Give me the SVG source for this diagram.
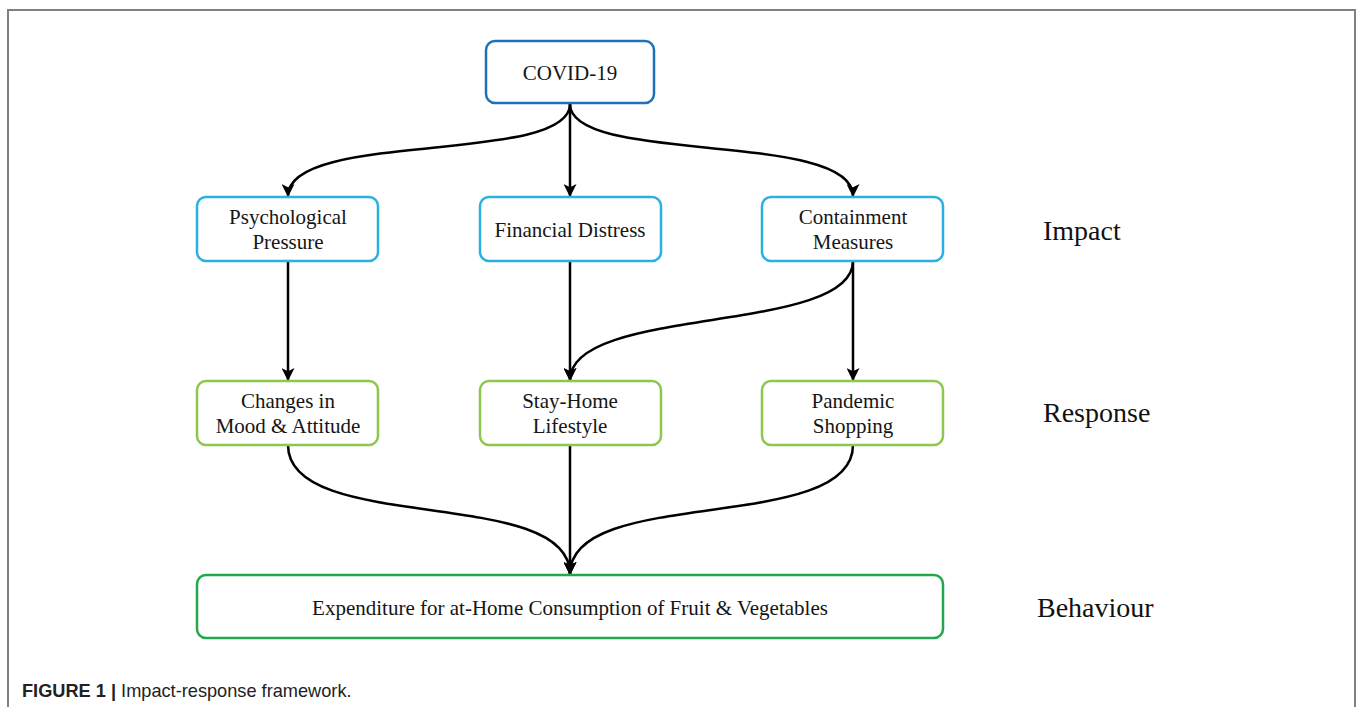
<svg xmlns="http://www.w3.org/2000/svg" width="1357" height="707" viewBox="0 0 1357 707">
<style>
.box{fill:#fff;stroke-width:2.5}
.top{stroke:#1f72b8}
.imp{stroke:#2bb0e4}
.resp{stroke:#8cc84b}
.beh{stroke:#22a84a}
.t{font-family:"Liberation Serif","Times New Roman",serif;font-size:21px;fill:#151515;text-anchor:middle}
.lbl{font-family:"Liberation Serif","Times New Roman",serif;font-size:28px;fill:#111}
.edge{fill:none;stroke:#000;stroke-width:2.5;marker-end:url(#arr)}
</style>
<defs>
<marker id="arr" viewBox="0 0 12 12" refX="11" refY="6" markerWidth="13" markerHeight="13" markerUnits="userSpaceOnUse" orient="auto">
<path d="M0,0 L12,6 L0,12 L3,6 Z" fill="#000"/>
</marker>
</defs>
<rect width="1357" height="707" fill="#fff"/>
<path d="M8,707 V10 H1355 V707" fill="none" stroke="#808080" stroke-width="2"/>

<g id="connectors">
<path class="edge" d="M570,104 C570,165 288,130 288,196"/>
<path class="edge" d="M570,104 V196"/>
<path class="edge" d="M570,104 C570,165 853,130 853,196"/>
<path class="edge" d="M288,261 V380"/>
<path class="edge" d="M570,261 V380"/>
<path class="edge" d="M853,261 C853,335 570,305 570,380"/>
<path class="edge" d="M853,261 V380"/>
<path class="edge" d="M288,445 C288,535 570,485 570,574"/>
<path class="edge" d="M570,445 V574"/>
<path class="edge" d="M853,445 C853,535 570,485 570,574"/>
</g>

<g id="covid">
<rect class="box top" x="486" y="41" width="168" height="62" rx="9"/>
<text class="t" x="570" y="80">COVID-19</text>
</g>
<g id="psych">
<rect class="box imp" x="197" y="197" width="181" height="64" rx="9"/>
<text class="t" x="288" y="224">Psychological</text>
<text class="t" x="288" y="249">Pressure</text>
</g>
<g id="financial">
<rect class="box imp" x="480" y="197" width="181" height="64" rx="9"/>
<text class="t" x="570" y="237">Financial Distress</text>
</g>
<g id="containment">
<rect class="box imp" x="762" y="197" width="181" height="64" rx="9"/>
<text class="t" x="853" y="224">Containment</text>
<text class="t" x="853" y="249">Measures</text>
</g>
<g id="changes">
<rect class="box resp" x="197" y="381" width="181" height="64" rx="9"/>
<text class="t" x="288" y="408">Changes in</text>
<text class="t" x="288" y="433">Mood &amp; Attitude</text>
</g>
<g id="stayhome">
<rect class="box resp" x="480" y="381" width="181" height="64" rx="9"/>
<text class="t" x="570" y="408">Stay-Home</text>
<text class="t" x="570" y="433">Lifestyle</text>
</g>
<g id="pandemic">
<rect class="box resp" x="762" y="381" width="181" height="64" rx="9"/>
<text class="t" x="853" y="408">Pandemic</text>
<text class="t" x="853" y="433">Shopping</text>
</g>
<g id="expenditure">
<rect class="box beh" x="197" y="575" width="746" height="63" rx="9"/>
<text class="t" x="570" y="615">Expenditure for at-Home Consumption of Fruit &amp; Vegetables</text>
</g>

<text class="lbl" x="1043" y="240">Impact</text>
<text class="lbl" x="1043" y="422">Response</text>
<text class="lbl" x="1037" y="617">Behaviour</text>

<text x="22" y="697" font-family="Liberation Sans, Arial, sans-serif" font-size="18.2" fill="#222"><tspan font-weight="bold">FIGURE 1 |</tspan> Impact-response framework.</text>
</svg>
